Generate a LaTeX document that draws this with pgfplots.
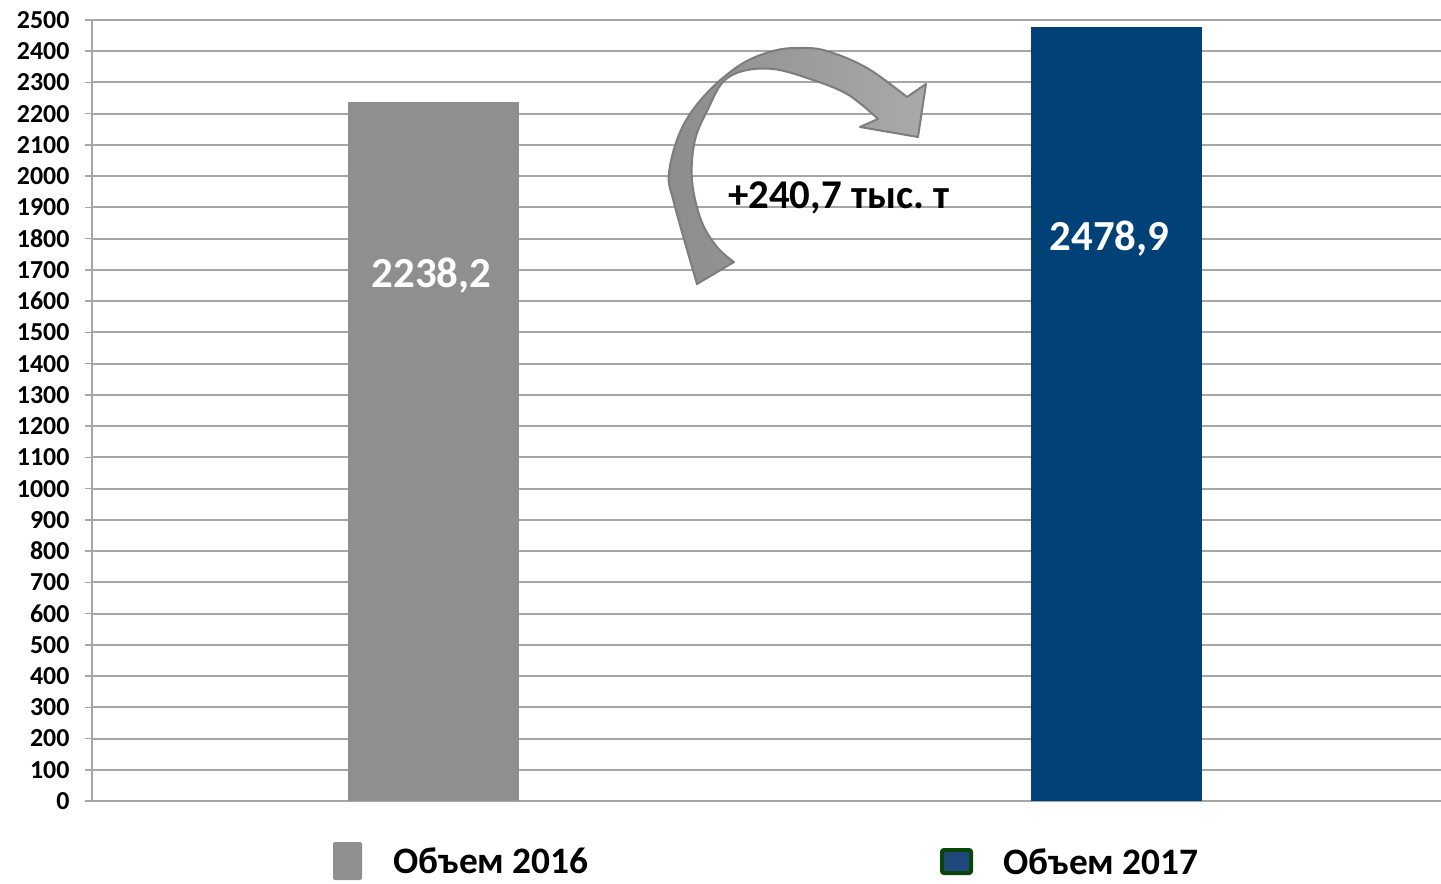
\documentclass[border=0pt]{standalone}
\usepackage{pgfplots}
\pgfplotsset{compat=1.18}
\usepackage{fontspec}
\setmainfont{Carlito}
\frenchspacing
\definecolor{gridc}{RGB}{166,166,166}
\definecolor{bargrey}{RGB}{143,143,143}
\definecolor{barblue}{RGB}{0,66,120}
\definecolor{arrowdark}{RGB}{140,140,140}
\definecolor{arrowlight}{RGB}{170,170,170}
\definecolor{arrowline}{RGB}{125,125,125}
\definecolor{legblue}{RGB}{31,73,125}
\definecolor{leggreen}{RGB}{10,70,10}
\begin{document}
\begin{tikzpicture}
\useasboundingbox (0,0) rectangle (1441bp,-884bp);
\begin{axis}[
  at={(92bp,-801bp)}, anchor=south west,
  scale only axis, width=1349bp, height=781bp,
  xmin=-0.5, xmax=1.475, ymin=0, ymax=2500,
  axis x line=none,
  axis y line*=left,
  y axis line style={draw=gridc, line width=1.5bp, -},
  ytick distance=100,
  ymajorgrids, grid style={gridc, line width=2bp},
  tick align=outside, major tick length=7bp,
  ytick style={gridc, line width=1.5bp},
  yticklabel style={font=\bfseries\fontsize{26}{26}\selectfont, xshift=-12bp},
  /pgf/number format/set thousands separator={},
  /pgf/number format/assume math mode=true,
  ybar, bar width=0.25, bar shift=0pt,
  clip=false,
]
\addplot[fill=bargrey, draw=none,
  nodes near coords, point meta=y,
  nodes near coords style={anchor=center, yshift=-174bp, xshift=-2bp, text=white,
     font=\bfseries\fontsize{43}{43}\selectfont,
     /pgf/number format/.cd, fixed, precision=1, fixed zerofill, use comma, set thousands separator={}, assume math mode=true}]
  coordinates {(0,2238.2)};
\addplot[fill=barblue, draw=none,
  nodes near coords, point meta=y,
  nodes near coords style={anchor=center, yshift=-212bp, xshift=-7bp, text=white,
     font=\bfseries\fontsize{43}{43}\selectfont,
     /pgf/number format/.cd, fixed, precision=1, fixed zerofill, use comma, set thousands separator={}, assume math mode=true}]
  coordinates {(1,2478.9)};
\end{axis}
\begin{scope}[x=1bp,y=-1bp]
% curved arrow
\draw[left color=arrowdark, right color=arrowlight, draw=arrowline, line width=2bp, line join=round]
  (697,284)
  -- plot[smooth, tension=0.6] coordinates {(697,284) (674,203) (669,173) (681,130) (705,95) (740,65) (773,51) (800,48) (827,51) (867,68) (907,97)}
  -- (926,84) -- (918,137) -- (860,127) -- (878,119)
  -- plot[smooth, tension=0.6] coordinates {(878,119) (847,94) (807,78) (773,69) (743,71) (723,82) (709,107) (695,140) (692,180) (701,220) (717,247) (734,262)}
  -- cycle;
\node[anchor=west, font=\bfseries\fontsize{41}{41}\selectfont, inner sep=0pt] at (728,198) {+240,7 тыс. т};
% legend
\fill[bargrey, rounded corners=2bp] (333,842) rectangle (362,880);
\node[anchor=west, font=\bfseries\fontsize{37.5}{37.5}\selectfont, inner sep=0pt] at (393,861) {Объем 2016};
\filldraw[fill=legblue, draw=leggreen, line width=4bp, rounded corners=2bp] (942,850) rectangle (971,873);
\node[anchor=west, font=\bfseries\fontsize{37.5}{37.5}\selectfont, inner sep=0pt] at (1003,862) {Объем 2017};
\end{scope}
\end{tikzpicture}
\end{document}
